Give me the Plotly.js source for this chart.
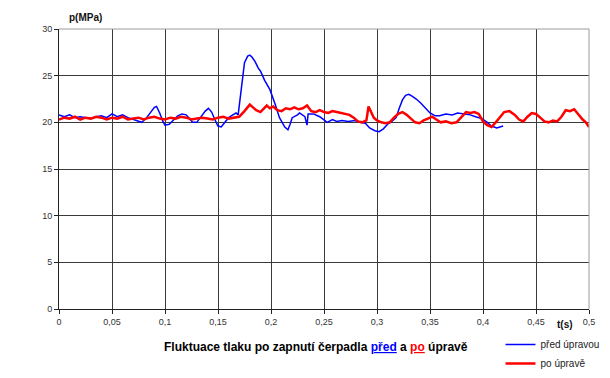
<!DOCTYPE html>
<html>
<head>
<meta charset="utf-8">
<script src="https://cdn.plot.ly/plotly-3.0.1.min.js"></script>
<style>html,body{margin:0;padding:0;background:#fff;}#chart{width:610px;height:378px;}</style>
</head>
<body>
<div id="chart"></div>
<script>
// ---- data ----
const tBefore = [0.000,0.005,0.010,0.015,0.020,0.025,0.030,0.035,0.040,0.045,0.050,0.055,0.060,0.065,0.070,0.075,0.078,0.082,0.086,0.090,0.092,0.095,0.098,0.100,0.104,0.108,0.112,0.116,0.120,0.123,0.126,0.130,0.134,0.138,0.141,0.144,0.147,0.150,0.153,0.156,0.160,0.164,0.167,0.169,0.171,0.173,0.175,0.178,0.180,0.182,0.185,0.188,0.190,0.194,0.199,0.204,0.208,0.213,0.216,0.218,0.220,0.225,0.227,0.232,0.234,0.235,0.240,0.246,0.253,0.258,0.262,0.267,0.273,0.279,0.284,0.289,0.293,0.298,0.302,0.306,0.310,0.314,0.318,0.321,0.324,0.327,0.330,0.333,0.337,0.341,0.345,0.350,0.355,0.359,0.365,0.371,0.376,0.382,0.388,0.393,0.399,0.404,0.408,0.413,0.419];
const pBefore = [20.8,20.6,20.8,20.5,20.6,20.5,20.4,20.6,20.7,20.5,20.9,20.6,20.8,20.5,20.3,20.1,20.0,20.4,21.0,21.6,21.7,21.0,20.1,19.7,19.8,20.3,20.7,20.9,20.8,20.4,20.0,20.0,20.6,21.2,21.5,21.1,20.3,19.6,19.5,19.9,20.5,20.8,21.0,20.8,22.5,24.2,26.4,27.1,27.2,27.0,26.5,25.8,25.5,24.5,23.5,21.9,20.5,19.5,19.2,19.8,20.5,20.8,21.0,20.6,19.7,20.9,20.9,20.6,20.0,20.3,20.1,20.2,20.1,20.2,20.0,19.9,19.4,19.1,19.0,19.3,19.8,20.1,20.5,21.5,22.4,22.9,23.0,22.8,22.5,22.1,21.6,21.0,20.7,20.7,20.9,20.8,21.0,20.9,20.8,20.6,20.4,20.0,19.6,19.4,19.6];

const tAfter = [0.000,0.005,0.010,0.015,0.020,0.025,0.030,0.035,0.040,0.045,0.050,0.055,0.060,0.065,0.070,0.075,0.080,0.085,0.090,0.095,0.100,0.105,0.110,0.115,0.120,0.125,0.130,0.135,0.140,0.145,0.150,0.155,0.160,0.165,0.170,0.175,0.180,0.183,0.186,0.190,0.193,0.196,0.199,0.202,0.206,0.210,0.214,0.218,0.222,0.226,0.230,0.234,0.238,0.242,0.246,0.250,0.254,0.258,0.262,0.266,0.270,0.274,0.278,0.282,0.286,0.290,0.292,0.294,0.297,0.300,0.304,0.308,0.312,0.316,0.320,0.324,0.328,0.332,0.336,0.340,0.344,0.348,0.352,0.356,0.360,0.365,0.370,0.375,0.380,0.384,0.388,0.392,0.396,0.400,0.404,0.408,0.412,0.416,0.420,0.425,0.430,0.434,0.438,0.442,0.446,0.450,0.454,0.458,0.462,0.466,0.470,0.474,0.478,0.482,0.486,0.490,0.494,0.497,0.500];
const pAfter = [20.3,20.5,20.4,20.6,20.3,20.5,20.4,20.6,20.5,20.3,20.5,20.4,20.6,20.3,20.4,20.5,20.3,20.5,20.6,20.4,20.3,20.5,20.4,20.6,20.5,20.3,20.4,20.5,20.4,20.3,20.5,20.6,20.4,20.5,20.6,21.2,21.9,21.6,21.3,21.1,21.4,21.8,21.5,21.7,21.3,21.2,21.5,21.4,21.6,21.4,21.5,21.8,21.2,21.1,21.3,21.1,21.0,21.2,21.1,21.0,20.9,20.8,20.5,20.1,20.0,20.2,21.7,21.2,20.5,20.2,20.0,19.9,20.0,20.5,20.9,21.1,20.8,20.4,20.0,19.9,20.2,20.4,20.6,20.3,20.0,20.1,19.9,20.0,20.6,21.1,21.0,21.1,20.9,20.1,19.7,19.5,20.0,20.6,21.1,21.2,20.8,20.3,20.1,20.6,21.0,20.9,20.5,20.1,20.0,20.2,20.1,20.6,21.3,21.2,21.4,20.8,20.3,20.0,19.5];

const xTickVals = [0,0.05,0.1,0.15,0.2,0.25,0.3,0.35,0.4,0.45,0.5];
const xTickText = ["0","0,05","0,1","0,15","0,2","0,25","0,3","0,35","0,4","0,45","0,5"];
const yTickVals = [0,5,10,15,20,25,30];
const seriesNames = ["před úpravou","po úpravě"];

const font = "Liberation Sans, Arial, sans-serif";

const traces = [
  {x: tBefore, y: pBefore, name: seriesNames[0], type: "scatter", mode: "lines",
   line: {color: "#0000ff", width: 1.5}},
  {x: tAfter, y: pAfter, name: seriesNames[1], type: "scatter", mode: "lines",
   line: {color: "#ff0000", width: 2.5}}
];

const layout = {
  width: 610, height: 378,
  margin: {l: 59, r: 21, t: 29, b: 69, autoexpand: false},
  paper_bgcolor: "#fff", plot_bgcolor: "#fff",
  font: {family: font, size: 9, color: "#333"},
  showlegend: true,
  legend: {x: 0.833, y: -0.075, xanchor: "left", yanchor: "top",
           font: {family: font, size: 10, color: "#222"}, bgcolor: "rgba(0,0,0,0)",
           itemwidth: 30, tracegroupgap: 0},
  xaxis: {range: [0, 0.5], tickvals: xTickVals, ticktext: xTickText,
          showgrid: true, gridcolor: "#3a3a3a", gridwidth: 1,
          showline: true, linecolor: "#222", linewidth: 1,
          ticks: "outside", ticklen: 4, tickcolor: "#222",
          zeroline: false, fixedrange: true,
          tickfont: {family: font, size: 9, color: "#333"}},
  yaxis: {range: [0, 30], tickvals: yTickVals,
          showgrid: true, gridcolor: "#3a3a3a", gridwidth: 1,
          showline: true, linecolor: "#222", linewidth: 1,
          ticks: "outside", ticklen: 4, tickcolor: "#222",
          zeroline: false, fixedrange: true,
          tickfont: {family: font, size: 9, color: "#333"}},
  shapes: [
    {type: "line", xref: "paper", yref: "paper", x0: 0, x1: 1, y0: 1, y1: 1,
     line: {color: "#9a9a9a", width: 1}, layer: "above"},
    {type: "line", xref: "paper", yref: "paper", x0: 1, x1: 1, y0: 0, y1: 1,
     line: {color: "#9a9a9a", width: 1}, layer: "above"}
  ],
  annotations: [
    {text: "<b>p(MPa)</b>", xref: "paper", yref: "paper", x: 0.015, y: 1.015,
     xanchor: "left", yanchor: "bottom", showarrow: false,
     font: {family: font, size: 10, color: "#111"}},
    {text: "<b>t(s)</b>", xref: "paper", yref: "paper", x: 0.955, y: -0.03,
     xanchor: "center", yanchor: "top", showarrow: false,
     font: {family: font, size: 10, color: "#111"}},
    {text: "<b>Fluktuace tlaku po zapnutí čerpadla <span style=\"color:#0000ff;text-decoration:underline\">před</span> a <span style=\"color:#ff0000;text-decoration:underline\">po</span> úpravě</b>",
     xref: "paper", yref: "paper", x: 0.485, y: -0.105,
     xanchor: "center", yanchor: "top", showarrow: false,
     font: {family: font, size: 12, color: "#000"}}
  ]
};

Plotly.newPlot("chart", traces, layout, {displayModeBar: false, staticPlot: true});
</script>
</body>
</html>
